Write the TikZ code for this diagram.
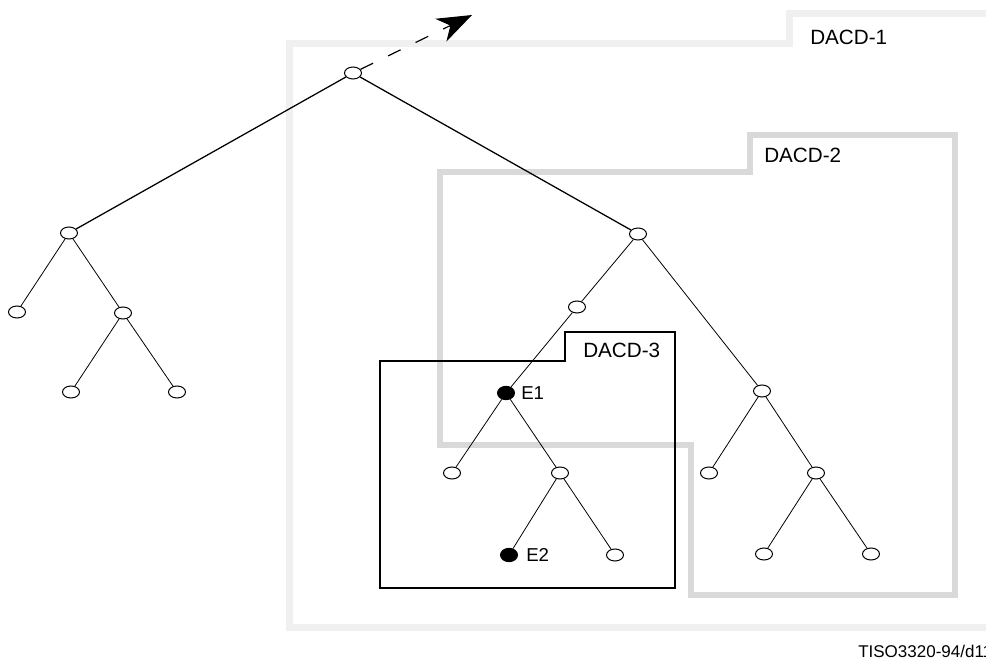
\documentclass[tikz,border=0pt]{standalone}
\usepackage{fontspec}
\setmainfont{Liberation Sans}
\usetikzlibrary{shapes.geometric,arrows.meta}
\begin{document}
\begin{tikzpicture}[x=0.75pt,y=-0.75pt,
  vert/.style={ellipse,draw,line width=0.75pt,fill=white,minimum width=12.75pt,minimum height=9pt,inner sep=0pt},
  evert/.style={ellipse,draw,line width=0.75pt,fill=black,minimum width=12.75pt,minimum height=10pt,inner sep=0pt},
  topedge/.style={line width=0.95pt},
  edge/.style={line width=0.6pt},
  dacdone/.style={draw=black!6,line width=5.25pt,line join=miter},
  dacdtwo/.style={draw=black!15,line width=4.5pt,line join=miter},
  dacdthree/.style={draw=black,line width=1.7pt,line join=miter},
  biglab/.style={anchor=west,inner sep=0pt,font=\fontsize{15.5}{18}\selectfont},
  elab/.style={anchor=west,inner sep=0pt,font=\fontsize{14}{16}\selectfont},
  reflab/.style={anchor=west,inner sep=0pt,font=\fontsize{12.75}{15}\selectfont}
]
\useasboundingbox (0,0) rectangle (986,659);
% DACD boxes
\draw[dacdone] (1000,14) -- (789,14) -- (789,44) -- (289,44) -- (289,627) -- (1000,627);
\draw[dacdtwo] (440,172) -- (750,172) -- (750,135) -- (955,135) -- (955,595) -- (691,595) -- (691,445) -- (440,445) -- cycle;
% nodes
\node[vert] (root) at (353,73) {};
\node[vert] (L) at (69,233) {};
\node[vert] (RR) at (638,234) {};
\node[vert] (LL) at (17,312) {};
\node[vert] (LR) at (123,313) {};
\node[vert] (LRL) at (71,392) {};
\node[vert] (LRR) at (177,392) {};
\node[vert] (A) at (577,307) {};
\node[vert] (B) at (762,391) {};
\node[evert] (E1) at (506,393) {};
\node[vert] (N1) at (452,473) {};
\node[vert] (C) at (560,473) {};
\node[evert] (E2) at (509,555) {};
\node[vert] (N2) at (615,555) {};
\node[vert] (B1) at (709,473) {};
\node[vert] (D) at (816,473) {};
\node[vert] (D1) at (764,554) {};
\node[vert] (D2) at (871,554) {};
\coordinate (tip) at (472,15);
% edges
\draw[topedge] (root) -- (L);
\draw[topedge] (root) -- (RR);
\draw[edge] (L) -- (LL);
\draw[edge] (L) -- (LR);
\draw[edge] (LR) -- (LRL);
\draw[edge] (LR) -- (LRR);
\draw[edge] (RR) -- (A);
\draw[edge] (RR) -- (B);
\draw[edge] (A) -- (E1);
\draw[edge] (E1) -- (N1);
\draw[edge] (E1) -- (C);
\draw[edge] (C) -- (E2);
\draw[edge] (C) -- (N2);
\draw[edge] (B) -- (B1);
\draw[edge] (B) -- (D);
\draw[edge] (D) -- (D1);
\draw[edge] (D) -- (D2);
\draw[line width=0.9pt,dash pattern=on 10.5pt off 12.5pt,-{Stealth[length=26pt,width=19pt,inset=8pt]}] (root) -- (tip);
% DACD-3
\draw[dacdthree] (380,361) -- (565,361) -- (565,332) -- (675,332) -- (675,588) -- (380,588) -- cycle;
% labels
\node[biglab] (l1) at (810,37) {DACD-1};
\node[biglab] (l2) at (764,155) {DACD-2};
\node[biglab] (l3) at (583,350) {DACD-3};
\node[elab] (le1) at (521,393) {E1};
\node[elab] (le2) at (526,555) {E2};
\node[reflab] (ref) at (858,651) {TISO3320-94/d11};
\end{tikzpicture}
\end{document}
